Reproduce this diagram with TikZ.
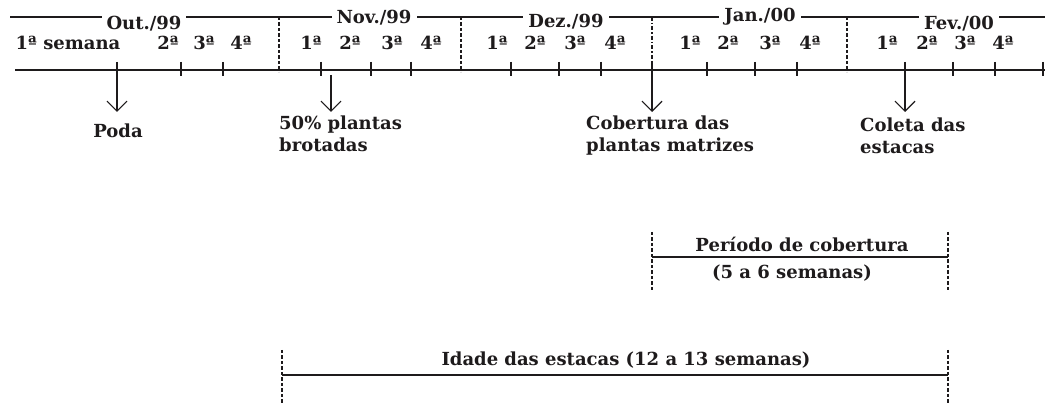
\documentclass[tikz,border=0pt]{standalone}
\usepackage{fontspec}
\setmainfont{DejaVu Serif}
\usetikzlibrary{arrows.meta}
\definecolor{ink}{HTML}{1E1B1C}
\tikzset{
  axis/.style={line width=1.5pt, draw=ink},
  guide/.style={line width=1.6pt, draw=ink, dash pattern=on 3.5pt off 2pt},
  dguide/.style={line width=1.3pt, draw=ink, dash pattern=on 4pt off 2pt on 1.5pt off 2pt},
  arr/.style={line width=1.2pt, draw=ink, -{Straight Barb[length=10pt,width=20pt]}},
  lab/.style={text=ink, font=\bfseries\fontsize{18}{22}\selectfont, inner sep=0pt},
  mon/.style={lab, fill=white, inner xsep=5pt, inner ysep=2pt},
}

\begin{document}
\begin{tikzpicture}[x=1pt, y=-1pt]
  \useasboundingbox (0,0) rectangle (1045,403);

  \coordinate (ML) at (10,17);   % month line
  \coordinate (MR) at (1045,17);
  \coordinate (TL) at (15,70);   % week axis
  \coordinate (TR) at (1045,70);

  \draw[axis] (ML)--(MR);
  \draw[axis] (TL)--(TR);

  % months
  \node[mon] (out) at (144,24) {Out./99};
  \node[mon] (nov) at (374,18) {Nov./99};
  \node[mon] (dez) at (566,22) {Dez./99};
  \node[mon] (jan) at (760,17) {Jan./00};
  \node[mon] (fev) at (959,24) {Fev./00};

  % weeks
  \node[lab] (w1) at (68,43)  {1ª semana};
  \node[lab] (w2) at (168,43) {2ª};
  \node[lab] (w3) at (204,43) {3ª};
  \node[lab] (w4) at (241,43) {4ª};
  \node[lab] (w5) at (311,43) {1ª};
  \node[lab] (w6) at (350,43) {2ª};
  \node[lab] (w7) at (392,43) {3ª};
  \node[lab] (w8) at (431,43) {4ª};
  \node[lab] (w9) at (497,43) {1ª};
  \node[lab] (w10) at (535,43) {2ª};
  \node[lab] (w11) at (575,43) {3ª};
  \node[lab] (w12) at (615,43) {4ª};
  \node[lab] (w13) at (690,43) {1ª};
  \node[lab] (w14) at (728,43) {2ª};
  \node[lab] (w15) at (770,43) {3ª};
  \node[lab] (w16) at (810,43) {4ª};
  \node[lab] (w17) at (887,43) {1ª};
  \node[lab] (w18) at (927,43) {2ª};
  \node[lab] (w19) at (965,43) {3ª};
  \node[lab] (w20) at (1003,43) {4ª};

  % ticks
  \foreach \x in {181,223,321,371,411,511,559,601,707,755,797,953,995,1043}
    \draw[axis] (\x,62)--(\x,76);

  % month borders
  \draw[guide] (279,17)--(279,72);
  \draw[guide] (461,17)--(461,72);
  \draw[guide] (847,17)--(847,72);
  \draw[dguide] (652,17)--(652,62);

  % events
  \coordinate (poda) at (117,62);
  \coordinate (podaT) at (117,112);
  \coordinate (brot) at (331,75);
  \coordinate (brotT) at (331,112);
  \coordinate (cob) at (652,62);
  \coordinate (cobT) at (652,112);
  \coordinate (col) at (905,62);
  \coordinate (colT) at (905,112);

  \draw[arr] (poda)--(podaT);
  \draw[arr] (brot)--(brotT);
  \draw[arr] (cob)--(cobT);
  \draw[arr] (col)--(colT);

  \node[lab] (podaL) at (118,131) {Poda};
  \node[lab, align=left, anchor=west] (brotL) at (279,134) {50\% plantas\\brotadas};
  \node[lab, align=left, anchor=west] (cobL) at (586,136) {Cobertura das\\plantas matrizes};
  \node[lab, align=left, anchor=west] (colL) at (860,136) {Coleta das\\estacas};

  % cover period
  \coordinate (pa) at (652,232);
  \coordinate (pb) at (652,290);
  \coordinate (pc) at (948,232);
  \coordinate (pd) at (948,290);
  \draw[guide] (pa)--(pb);
  \draw[guide] (pc)--(pd);
  \draw[axis] (652,257)--(948,257);
  \node[lab] (per) at (802,244) {Período de cobertura};
  \node[lab] (perw) at (792,273) {(5 a 6 semanas)};

  % cutting age
  \coordinate (ia) at (282,350);
  \coordinate (ib) at (282,403);
  \coordinate (ic) at (948,350);
  \coordinate (id) at (948,403);
  \draw[guide] (ia)--(ib);
  \draw[guide] (ic)--(id);
  \draw[axis] (282,375)--(948,375);
  \node[lab] (idade) at (626,360) {Idade das estacas (12 a 13 semanas)};
\end{tikzpicture}
\end{document}
